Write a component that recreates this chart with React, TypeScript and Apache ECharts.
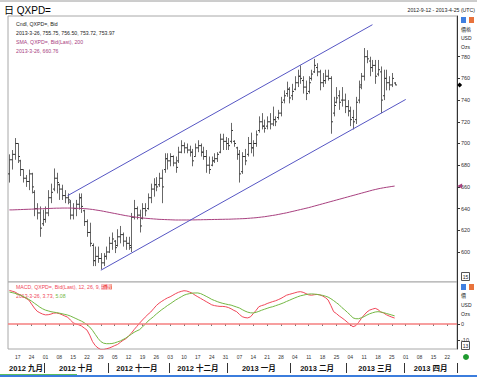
import React, { useEffect, useRef } from 'react';
import * as echarts from 'echarts';

// ---- categories: trading days (weekdays) shown on the time axis ----
const START_DATE = '2012-09-12';
const END_DATE = '2013-04-25';
function buildDates(start: string, end: string): string[] {
  const out: string[] = [];
  const d = new Date(start + 'T00:00:00Z');
  const e = new Date(end + 'T00:00:00Z');
  while (d <= e) {
    const wd = d.getUTCDay();
    if (wd !== 0 && wd !== 6) out.push(d.toISOString().slice(0, 10));
    d.setUTCDate(d.getUTCDate() + 1);
  }
  return out;
}
const dates = buildDates(START_DATE, END_DATE);

const monthLabels: Record<string, string> = {
  '2012-09': '2012 九月', '2012-10': '2012 十月', '2012-11': '2012 十一月', '2012-12': '2012 十二月',
  '2013-01': '2013 一月', '2013-02': '2013 二月', '2013-03': '2013 三月', '2013-04': '2013 四月',
};

// ---- price bars (QXPD= Bid), 2012-09-12 .. 2013-03-26 ----
const open = [672,685,690,700,684,676,668,665,672,655,640,636,626,630,636,650,658,668,662,658,652,650,646,634,640,644,650,638,628,618,606,592,596,594,590,596,600,608,610,606,614,616,610,608,604,632,640,634,631,640,640,650,658,662,662,668,676,686,684,688,682,684,692,698,696,694,692,688,696,698,692,688,680,680,684,686,692,704,702,700,702,702,696,690,674,688,690,700,696,700,712,720,716,716,720,718,722,724,728,740,746,750,744,750,756,762,758,752,748,760,766,770,766,756,758,762,760,728,738,744,740,740,734,730,724,722,740,754,762,780,776,770,772,764,766,744,760,756,754,755.75];
const high = [690,694,705,700,685,676,671,676,673,657,645,642,639,642,657,663,677,673,663,662,657,654,648,645,648,654,654,639,630,627,608,605,605,599,599,605,614,618,611,621,624,618,614,614,636,648,642,639,645,645,654,663,668,669,673,676,691,691,691,689,688,697,703,701,700,698,695,700,703,700,697,694,688,688,691,692,709,709,706,705,719,703,697,694,692,695,706,710,703,712,725,728,722,725,728,734,725,731,743,749,757,752,755,762,768,772,762,758,762,768,778,774,768,765,768,768,762,743,752,749,752,746,740,734,731,743,758,765,788,786,780,777,777,777,771,768,768,762,765,756.5];
const low = [664,676,685,682,670,664,660,657,654,633,630,614,624,627,633,645,656,654,648,648,645,644,630,630,633,639,636,624,614,605,587,587,590,584,587,593,599,602,599,605,608,605,602,602,600,630,630,618,630,633,639,645,651,656,660,645,673,676,679,679,673,682,691,691,691,688,679,688,692,688,685,673,672,679,682,683,691,694,694,694,700,697,685,664,672,680,688,691,688,697,710,713,710,713,713,716,716,722,725,737,743,737,740,749,752,755,746,740,746,758,765,762,749,752,755,758,709,725,737,731,734,728,725,716,713,718,737,750,758,774,762,766,755,762,728,740,749,749,752,753.72];
const close = [685,690,700,688,676,668,665,672,660,640,636,622,630,636,650,655,668,664,658,652,650,648,634,640,644,650,642,628,618,608,592,596,594,590,596,600,608,612,604,614,616,610,608,606,632,640,634,624,640,638,650,658,662,660,668,660,686,684,688,682,678,692,698,696,694,692,684,696,698,692,688,680,676,684,686,690,704,702,700,698,712,700,690,672,688,684,700,696,700,708,720,716,714,720,718,722,720,728,738,744,750,742,748,756,762,760,752,746,756,764,772,766,756,758,762,760,720,735,742,738,740,734,730,722,720,738,752,762,780,778,770,772,762,768,740,760,756,754,760,753.97];

// ---- SMA 200 ----
const sma200 = [638.8,638.8,638.9,639,639.1,639.2,639.3,639.4,639.5,639.6,639.7,639.8,639.9,640,640.1,640.2,640.3,640.4,640.4,640.5,640.5,640.5,640.5,640.4,640.3,640.2,640.1,640,639.8,639.5,639.2,638.8,638.4,638,637.5,637,636.5,636,635.5,635,634.5,634,633.5,633.1,632.7,632.3,632,631.7,631.4,631.1,630.9,630.7,630.5,630.3,630.1,630,629.9,629.8,629.7,629.6,629.5,629.5,629.5,629.5,629.5,629.5,629.6,629.6,629.7,629.7,629.8,629.8,629.9,629.9,630,630,630.1,630.1,630.2,630.2,630.3,630.4,630.5,630.6,630.7,630.8,631,631.2,631.4,631.6,631.9,632.2,632.5,632.9,633.3,633.7,634.1,634.6,635.1,635.6,636.1,636.7,637.3,637.9,638.5,639.1,639.7,640.3,640.9,641.6,642.3,643,643.7,644.4,645.1,645.8,646.5,647.2,647.9,648.6,649.3,650,650.7,651.4,652.1,652.8,653.5,654.2,654.9,655.6,656.3,657,657.6,658.2,658.7,659.2,659.6,660,660.4,660.76];

// ---- MACD (12, 26, 9) ----
const macd = [21,20.5,20,19,18,17,16,15,12.5,10,8,7,6.2,5.7,5.8,6.2,6.8,6.9,6.5,5.8,5,4.3,2.5,0.8,0,-0.5,-1.2,-2.5,-3.8,-7,-11,-13.5,-15,-16,-16,-15.5,-15,-14.3,-13.5,-12.8,-11.5,-10.2,-9.3,-7.5,-5.8,-3.5,-1.5,0.6,2.5,4.3,6,7.5,9.5,11.5,13,14.2,15.3,16.3,17,18,19,19.8,20.4,20.8,20.6,20,19.2,18,17,16,15,14,13,12,11.5,11.2,11,11,10.8,10.3,9.5,8.5,7.7,6,4.6,4,3.8,4.5,6.5,8.5,10.8,11.5,12,12.8,13.4,14,14.5,15.2,16,17,18,18.5,19,19.5,20,20.2,19.8,19,18.2,18,18.3,18.5,18.2,17.5,16.5,15,11.5,7.7,6.5,5,3.8,2.5,1,-0.5,-1.7,-1,1,3.5,5.6,7.5,8.7,9.3,9.8,9,7.5,6.9,5.8,5,4.3,3.73];
const signal = [20,19.6,19.2,18.6,18,17.2,16.3,15.4,14.3,13,11.8,10.5,9.5,8.7,8.2,7.7,7.4,7.1,6.8,6.4,6,5.6,5,4.2,3.4,2.6,1.8,0.8,-0.5,-1.9,-4,-6.5,-9,-11,-12,-12.3,-12.3,-12.2,-11.8,-11.2,-10.6,-9.7,-8.8,-7.6,-6.4,-5.2,-4.3,-3.5,-1.8,-0.2,1.8,3.2,4.6,6.2,7.6,9,10.2,11.5,12.6,13.8,15,16,17,18,18.6,19,19.3,19.4,19.4,19,18.2,17.3,16.4,15.4,14.7,14,13.4,12.9,12.5,12.1,11.8,11.2,10.6,10,9,8.1,7.4,7,6.9,7.3,7.9,8.6,9.2,9.8,10.4,10.8,11.4,12,12.6,13.3,14.1,14.8,15.6,16.3,17,17.6,18,18.4,18.7,18.8,18.7,18.5,18.2,17.9,17.4,16.8,15.8,14.6,13.3,12,10.2,8.8,7.2,5.6,3.8,3.3,3.3,3.9,4.6,5.6,6.4,7,7.5,7.7,7.5,7.1,6.6,6.1,5.6,5.08];

// ---- trend channel lines drawn by the user: [date, price] end points ----
const upperChannel: [string, number][] = [['2012-10-11', 651.9], ['2013-03-14', 809.5]];
const lowerChannel: [string, number][] = [['2012-10-29', 583.2], ['2013-04-01', 740.6]];

const priceTicks = [600, 620, 640, 660, 680, 700, 720, 740, 760, 780];
const macdTicks = [-10, 0];

const FONT = '"Liberation Sans", "Noto Sans CJK TC", sans-serif';
const BAR = '#686868';
const CHANNEL = '#5656c4';
const SMA_C = '#a8407f';
const MACD_C = '#f0485a';
const SIG_C = '#74b844';

function buildOption() {
  const n = dates.length;
  const pad = (arr: number[]) => dates.map((_, i) => (i < arr.length ? arr[i] : null));
  const ohlc = close.map((_, i) => [i, open[i], close[i], low[i], high[i]]);

  const monthStart = new Set<number>();
  const monthMid = new Map<number, string>();
  const groups: Record<string, number[]> = {};
  dates.forEach((d, i) => {
    const k = d.slice(0, 7);
    (groups[k] = groups[k] || []).push(i);
  });
  Object.keys(groups).forEach((k, gi) => {
    const idx = groups[k];
    if (gi > 0) monthStart.add(idx[0]);
    monthMid.set(Math.floor((idx[0] + idx[idx.length - 1]) / 2), monthLabels[k]);
  });
  const isMonday = (i: number) => new Date(dates[i] + 'T00:00:00Z').getUTCDay() === 1;

  const txt = (text: string, x: number, y: number, extra: any = {}) => ({
    type: 'text', x, y, silent: true,
    style: { text, fontSize: 5.5, fontFamily: FONT, fill: '#222', verticalAlign: 'middle', ...extra },
  });

  return {
    animation: false,
    backgroundColor: '#fff',
    grid: [
      { left: 8, top: 16, width: 449, height: 266, show: true, borderColor: '#a8a8a8', borderWidth: 1, backgroundColor: '#fff' },
      { left: 8, top: 282, width: 449, height: 67, show: true, borderColor: '#a8a8a8', borderWidth: 1, backgroundColor: '#fff' },
    ],
    xAxis: [
      { type: 'category', gridIndex: 0, data: dates, boundaryGap: true, axisLine: { show: false }, axisTick: { show: false }, axisLabel: { show: false } },
      {
        type: 'category', gridIndex: 1, data: dates, boundaryGap: true, position: 'bottom',
        axisLine: { show: false },
        axisTick: { show: true, alignWithLabel: true, length: 2, interval: (i: number) => isMonday(i), lineStyle: { color: '#777' } },
        axisLabel: { show: true, interval: (i: number) => isMonday(i), formatter: (v: string) => v.slice(8, 10), fontSize: 5, fontFamily: FONT, color: '#333', margin: 5 },
      },
      {
        type: 'category', gridIndex: 1, data: dates, boundaryGap: true, position: 'bottom', offset: 14,
        axisLine: { show: false },
        axisTick: { show: true, length: 10, interval: (i: number) => monthStart.has(i), lineStyle: { color: '#333', width: 1 } },
        axisLabel: { show: true, interval: (i: number) => monthMid.has(i), formatter: (_v: string, i: number) => monthMid.get(i) || '', fontSize: 7.5, fontWeight: 'bold', fontFamily: FONT, color: '#111', margin: 2 },
      },
    ],
    yAxis: [
      {
        type: 'value', gridIndex: 0, position: 'right', min: 572.35, max: 817.51, scale: true,
        axisLine: { show: true, lineStyle: { color: '#333' } },
        axisTick: { show: true, length: 3, customValues: priceTicks, lineStyle: { color: '#333' } },
        axisLabel: { show: true, customValues: priceTicks, fontSize: 5.5, fontFamily: FONT, color: '#333', margin: 4 },
        splitLine: { show: false },
      },
      {
        type: 'value', gridIndex: 1, position: 'right', min: -15.625, max: 26.25,
        axisLine: { show: true, lineStyle: { color: '#333' } },
        axisTick: { show: true, length: 3, customValues: macdTicks, lineStyle: { color: '#333' } },
        axisLabel: { show: true, customValues: macdTicks, fontSize: 5.5, fontFamily: FONT, color: '#333', margin: 4 },
        splitLine: { show: false },
      },
    ],
    series: [
      {
        type: 'custom', name: 'Cndl', xAxisIndex: 0, yAxisIndex: 0, data: ohlc,
        encode: { x: 0, y: [1, 2, 3, 4] },
        renderItem: (_p: any, api: any) => {
          const i = api.value(0);
          const o = api.coord([i, api.value(1)]);
          const c = api.coord([i, api.value(2)]);
          const l = api.coord([i, api.value(3)]);
          const h = api.coord([i, api.value(4)]);
          const x = Math.round(o[0]) + 0.5;
          const style = { stroke: BAR, lineWidth: 1 };
          const tick = { stroke: '#333', lineWidth: 1 };
          return {
            type: 'group',
            children: [
              { type: 'line', shape: { x1: x, y1: h[1], x2: x, y2: l[1] }, style },
              { type: 'line', shape: { x1: x - 1.5, y1: o[1], x2: x, y2: o[1] }, style: tick },
              { type: 'line', shape: { x1: x, y1: c[1], x2: x + 1.5, y2: c[1] }, style: tick },
            ],
          };
        },
      },
      {
        type: 'line', name: 'SMA', xAxisIndex: 0, yAxisIndex: 0, data: pad(sma200), showSymbol: false,
        lineStyle: { color: SMA_C, width: 1 }, itemStyle: { color: SMA_C },
        markLine: {
          silent: true, symbol: ['none', 'none'], label: { show: false },
          lineStyle: { color: CHANNEL, width: 1, type: 'solid' },
          data: [
            [{ coord: upperChannel[0] }, { coord: upperChannel[1] }],
            [{ coord: lowerChannel[0] }, { coord: lowerChannel[1] }],
          ],
        },
        markPoint: {
          silent: true, label: { show: false },
          data: [
            { coord: [dates[n - 1], close[close.length - 1]], symbol: 'diamond', symbolSize: 5, symbolOffset: [4, 0], itemStyle: { color: '#000' } },
            { coord: [dates[n - 1], sma200[sma200.length - 1]], symbol: 'triangle', symbolRotate: 90, symbolSize: 5, symbolOffset: [4, 0], itemStyle: { color: SMA_C } },
          ],
        },
      },
      {
        type: 'line', name: 'MACD', xAxisIndex: 1, yAxisIndex: 1, data: pad(macd), showSymbol: false,
        lineStyle: { color: MACD_C, width: 1 },
        markLine: {
          silent: true, symbol: ['none', 'none'], label: { show: false },
          lineStyle: { color: '#f57f7f', width: 1.5, type: 'solid' },
          data: [{ yAxis: 0 }],
        },
      },
      {
        type: 'line', name: 'Signal', xAxisIndex: 1, yAxisIndex: 1, data: pad(signal), showSymbol: false,
        lineStyle: { color: SIG_C, width: 1 },
      },
    ],
    graphic: [
      { type: 'line', silent: true, shape: { x1: 0, y1: 1, x2: 477, y2: 1 }, style: { stroke: '#9a9a9a', lineWidth: 1 } },
      { type: 'text', x: 4, y: 10, silent: true, style: { text: '日 QXPD=', fontSize: 10, fontFamily: FONT, fill: '#000', verticalAlign: 'middle' } },
      txt('2012-9-12 - 2013-4-25 (UTC)', 475, 10, { align: 'right', fontSize: 5.2 }),
      txt('Cndl, QXPD=, Bid', 16, 24, { fontSize: 5.2 }),
      txt('2013-3-26, 755.75, 756.50, 753.72, 753.97', 16, 33, { fontSize: 5.2 }),
      txt('SMA, QXPD=, Bid(Last), 200', 16, 42, { fontSize: 5.2, fill: SMA_C }),
      txt('2013-3-26, 660.76', 16, 51, { fontSize: 5.2, fill: SMA_C }),
      {
        type: 'text', x: 16, y: 287, silent: true,
        style: {
          text: '{r|MACD, QXPD=, Bid(Last), 12, 26, 9, }{b|指數}', fontFamily: FONT, fontSize: 5.2, verticalAlign: 'middle',
          rich: { r: { fill: MACD_C, fontSize: 5.2, fontFamily: FONT }, b: { fill: '#fff', backgroundColor: '#ee4b4b', fontSize: 5.2, fontFamily: FONT } },
        },
      },
      {
        type: 'text', x: 16, y: 296, silent: true,
        style: {
          text: '{r|2013-3-26, 3.73, }{g|5.08}', fontFamily: FONT, fontSize: 5.2, verticalAlign: 'middle',
          rich: { r: { fill: MACD_C, fontSize: 5.2, fontFamily: FONT }, g: { fill: SIG_C, fontSize: 5.2, fontFamily: FONT } },
        },
      },
      // right-side unit labels & icons (main panel)
      { type: 'rect', silent: true, shape: { x: 461, y: 17, width: 5, height: 6 }, style: { fill: '#3f7fe0' } },
      { type: 'rect', silent: true, shape: { x: 469, y: 17, width: 5, height: 6 }, style: { fill: '#e8733c' } },
      txt('價格', 461, 29, { fontSize: 5 }),
      txt('USD', 461, 38, { fontSize: 5 }),
      txt('Ozs', 461, 47, { fontSize: 5 }),
      // right-side unit labels & icons (MACD panel)
      { type: 'rect', silent: true, shape: { x: 461, y: 284, width: 5, height: 6 }, style: { fill: '#3f7fe0' } },
      { type: 'rect', silent: true, shape: { x: 469, y: 284, width: 5, height: 6 }, style: { fill: '#e8733c' } },
      txt('價', 461, 295, { fontSize: 5 }),
      txt('USD', 461, 305, { fontSize: 5 }),
      txt('Ozs', 461, 314, { fontSize: 5 }),
      // small boxed counters
      { type: 'rect', silent: true, shape: { x: 461.5, y: 272.5, width: 8, height: 8 }, style: { fill: '#fff', stroke: '#555', lineWidth: 1 } },
      txt('15', 465.5, 277, { fontSize: 5, align: 'center' }),
      { type: 'rect', silent: true, shape: { x: 461.5, y: 341.5, width: 8, height: 8 }, style: { fill: '#fff', stroke: '#555', lineWidth: 1 } },
      txt('13', 465.5, 346, { fontSize: 5, align: 'center' }),
      { type: 'circle', silent: true, shape: { cx: 466, cy: 357, r: 3 }, style: { fill: '#1f9a2f' } },
      // bottom status strip
      { type: 'rect', silent: true, shape: { x: 0, y: 375, width: 477, height: 2 }, style: { fill: '#3b7ddd' } },
      { type: 'rect', silent: true, shape: { x: 0, y: 374, width: 77, height: 1 }, style: { fill: '#5cbf5c' } },
    ],
  };
}

export default function App() {
  const ref = useRef<HTMLDivElement>(null);
  useEffect(() => {
    if (!ref.current) return;
    const chart = echarts.init(ref.current, null, { renderer: 'svg' });
    chart.setOption(buildOption() as any);
    return () => chart.dispose();
  }, []);
  return <div ref={ref} style={{ position: 'absolute', left: 0, top: 0, width: 477, height: 377 }} />;
}
